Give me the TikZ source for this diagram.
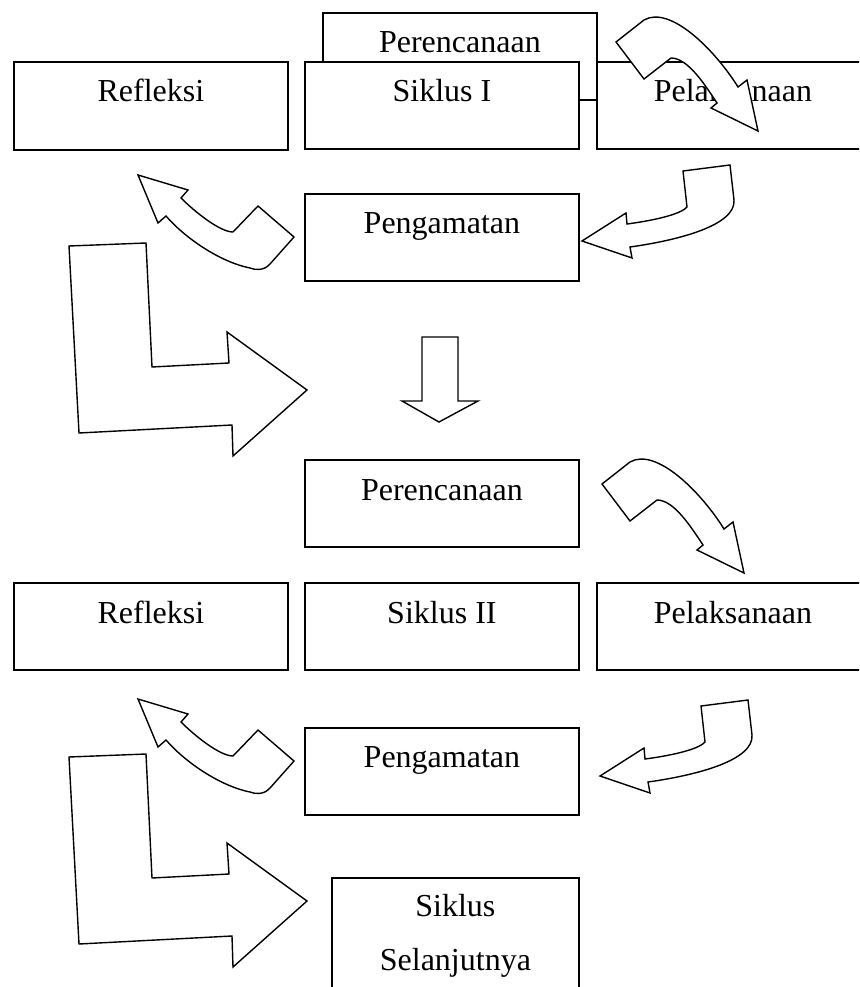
\documentclass[tikz,border=0pt]{standalone}
\usepackage{fontspec}
\setmainfont{Liberation Serif}
\newcommand{\bigfs}{\fontsize{32}{38}\selectfont}
\begin{document}
\begin{tikzpicture}[x=1pt,y=-1pt,
  box/.style={draw, line width=1.8pt, fill=white, inner sep=0pt, anchor=north west,
              minimum width=274pt, minimum height=87pt},
  txt/.style={anchor=base, font=\bigfs, inner sep=0pt},
  blk/.style={draw, line width=1.4pt, fill=white, line join=miter}]
\useasboundingbox (0,0) rectangle (859,987);
\begin{scope}
\clip (0,0) rectangle (859,987);

% ---------- Siklus I ----------
\node[box] (per1) at (322,12) {};
\node[txt] (per1t) at ([yshift=-41pt]per1.north) {Perencanaan};
\node[box] (sik1) at (304,61) {};
\node[txt] (sik1t) at ([yshift=-41pt]sik1.north) {Siklus I};
\node[box, minimum width=272pt] (pel1) at (596,61) {};
\node[txt] (pel1t) at ([yshift=-41pt]pel1.north) {Pelaksanaan};
\node[box, minimum height=88pt] (ref1) at (13,61) {};
\node[txt] (ref1t) at ([yshift=-41pt]ref1.north) {Refleksi};
\node[box] (pen1) at (304,193) {};
\node[txt] (pen1t) at ([yshift=-40pt]pen1.north) {Pengamatan};

% ---------- Siklus II ----------
\node[box] (per2) at (304,459) {};
\node[txt] (per2t) at ([yshift=-41pt]per2.north) {Perencanaan};
\node[box, minimum height=87pt] (ref2) at (13,582) {};
\node[txt] (ref2t) at ([yshift=-41pt]ref2.north) {Refleksi};
\node[box] (sik2) at (304,582) {};
\node[txt] (sik2t) at ([yshift=-41pt]sik2.north) {Siklus II};
\node[box, minimum width=272pt] (pel2) at (596,582) {};
\node[txt] (pel2t) at ([yshift=-41pt]pel2.north) {Pelaksanaan};
\node[box] (pen2) at (304,727) {};
\node[txt] (pen2t) at ([yshift=-40pt]pen2.north) {Pengamatan};
\node[box, minimum width=247pt, minimum height=130pt] (sel) at (331,877) {};
\node[txt] (selt1) at ([yshift=-39pt]sel.north) {Siklus};
\node[txt] (selt2) at ([yshift=-93pt]sel.north) {Selanjutnya};

% ---------- block arrows ----------
% Perencanaan -> Pelaksanaan
\foreach \sx/\sy in {0/0,-14/442}{
\begin{scope}[shift={(\sx,\sy)}]
\draw[blk] (616,42) -- (644,20) .. controls (670,5) and (715,50) .. (738,87)
  -- (747,80) -- (758,131) -- (711,108) -- (717,103)
  .. controls (705,85) and (688,58) .. (671,58) -- (644,79) -- cycle;
\end{scope}}
% Pelaksanaan -> Pengamatan
\foreach \sx/\sy in {0/0,18/535}{
\begin{scope}[shift={(\sx,\sy)}]
\draw[blk] (683,171) -- (730,165) -- (734,200)
  .. controls (736,225) and (680,240) .. (630,247)
  -- (632,258) -- (582,241) -- (626,213) -- (627,224)
  .. controls (650,221) and (680,215) .. (687,207) -- cycle;
\end{scope}}
% Pengamatan -> Refleksi
\foreach \sx/\sy in {0/0,0/524}{
\begin{scope}[shift={(\sx,\sy)}]
\draw[blk] (138,175) -- (188,190) -- (181,198)
  .. controls (195,212) and (220,232) .. (233,232)
  -- (258,206) -- (294,237) -- (270,264)
  .. controls (264,271) and (255,270) .. (250,268)
  .. controls (220,262) and (185,238) .. (166,216)
  -- (158,223) -- cycle;
\end{scope}}
% L-shaped arrows
\foreach \sx/\sy in {0/0,0/511}{
\begin{scope}[shift={(\sx,\sy)}]
\draw[blk] (69,246) -- (146,243) -- (152,367) -- (229,363) -- (227,332)
  -- (307,390) -- (233,456) -- (232,425) -- (79,433) -- cycle;
\end{scope}}
% down arrow
\draw[blk] (422,337) -- (458,337) -- (458,401) -- (478,401) -- (439,422)
  -- (402,401) -- (422,401) -- cycle;
\end{scope}
\end{tikzpicture}
\end{document}
